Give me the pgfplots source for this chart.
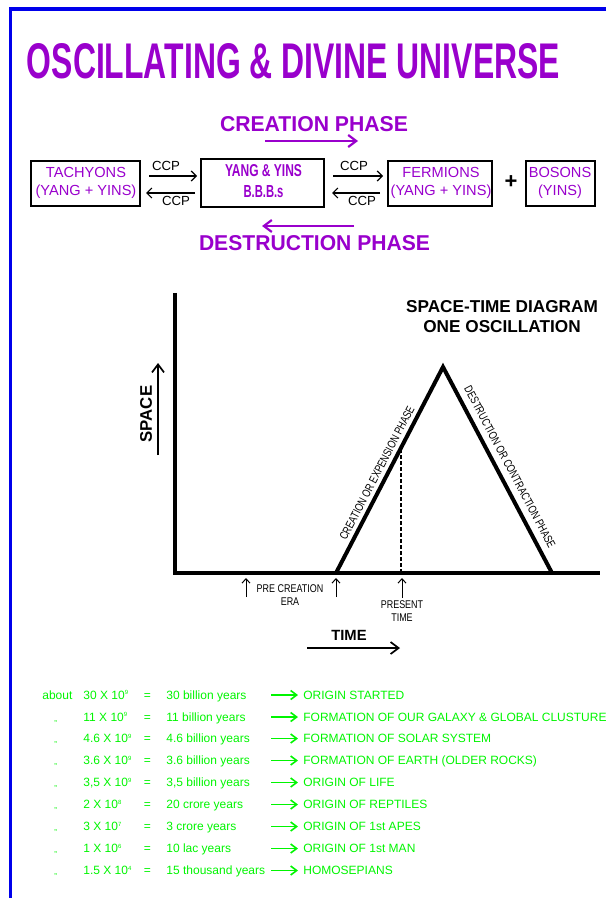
\documentclass[border=0pt]{standalone}
\usepackage{pgfplots}
\pgfplotsset{compat=1.18}
\usepackage{fontspec}
\setmainfont{Liberation Sans}
\usepackage{graphicx}
\usetikzlibrary{arrows.meta}
\definecolor{purp}{RGB}{153,0,204}
\definecolor{grn}{RGB}{0,245,0}
\definecolor{brd}{RGB}{0,0,235}
\newcommand{\fs}[1]{\fontsize{#1}{#1}\selectfont}
\newcommand{\ex}[1]{\raisebox{2.3pt}{\fs{3pt}#1}}
\newcommand{\grow}[5]{%
 \node[gtxt] at (axis cs:83,#1) {#2};
 \node[gtxt] at (axis cs:143.5,#1) {=};
 \node[gtxt] at (axis cs:166,#1) {#3};
 \draw[grn, line width=0.8pt, -{Straight Barb[length=3pt,width=4.5pt]}] (axis cs:271,#1) -- (axis cs:298,#1);
 \node[gtxt] at (axis cs:303,#1) {#4};
 \node[gtxt] at (axis cs:#5,#1) {\ifnum#5<50 about\else{\fs{4pt},,}\fi};
}
\begin{document}
\begin{tikzpicture}[gtxt/.style={anchor=base west, inner sep=0, text=grn, font=\fs{6pt}, yshift=-2.1pt}]
\begin{axis}[scale only axis, width=303pt, height=449pt,
  xmin=0, xmax=606, ymin=0, ymax=898, y dir=reverse, hide axis, clip=false]
% border
\draw[brd, line width=1.75pt] (axis cs:606,9) -- (axis cs:10.5,9) -- (axis cs:10.5,898);
% title
\node[inner sep=0, text=purp] at (axis cs:293.5,61.5) {\resizebox{266.5pt}{17.5pt}{\bfseries OSCILLATING \& DIVINE UNIVERSE}};
% phases
\node[inner sep=0, text=purp] at (axis cs:314,124.5) {\resizebox{94pt}{7.5pt}{\bfseries CREATION PHASE}};
\draw[purp, line width=1.1pt, -{Straight Barb[length=4pt,width=6pt]}] (axis cs:265,141) -- (axis cs:358,141);
\node[inner sep=0, text=purp] at (axis cs:314.5,243.5) {\resizebox{115.5pt}{7.5pt}{\bfseries DESTRUCTION PHASE}};
\draw[purp, line width=1.1pt, -{Straight Barb[length=4pt,width=6pt]}] (axis cs:354,226) -- (axis cs:262,226);
% boxes
\draw[line width=0.85pt] (axis cs:31,161) rectangle (axis cs:140,206);
\draw[line width=0.85pt] (axis cs:201,159) rectangle (axis cs:324,207);
\draw[line width=0.85pt] (axis cs:388,161) rectangle (axis cs:492,206);
\draw[line width=0.85pt] (axis cs:526,161) rectangle (axis cs:595,206);
\node[anchor=base, inner sep=0, text=purp, font=\fs{7.3pt}] at (axis cs:86,178) {TACHYONS};
\node[anchor=base, inner sep=0, text=purp, font=\fs{7.3pt}] at (axis cs:86,196) {(YANG + YINS)};
\node[anchor=base, inner sep=0, text=purp, font=\fs{7.3pt}] at (axis cs:441,178) {FERMIONS};
\node[anchor=base, inner sep=0, text=purp, font=\fs{7.3pt}] at (axis cs:441,196) {(YANG + YINS)};
\node[anchor=base, inner sep=0, text=purp, font=\fs{7.3pt}] at (axis cs:560,178) {BOSONS};
\node[anchor=base, inner sep=0, text=purp, font=\fs{7.3pt}] at (axis cs:560,196) {(YINS)};
\node[inner sep=0, text=purp] at (axis cs:263.5,171) {\resizebox{38.5pt}{6pt}{\bfseries YANG \& YINS}};
\node[inner sep=0, text=purp] at (axis cs:263.5,192) {\resizebox{20pt}{6pt}{\bfseries B.B.B.s}};
\node[anchor=base, inner sep=0, font=\fs{6.6pt}] at (axis cs:166,171) {CCP};
\node[anchor=base, inner sep=0, font=\fs{6.6pt}] at (axis cs:176,206) {CCP};
\node[anchor=base, inner sep=0, font=\fs{6.6pt}] at (axis cs:354,171) {CCP};
\node[anchor=base, inner sep=0, font=\fs{6.6pt}] at (axis cs:362,206) {CCP};
\draw[line width=0.6pt, -{Straight Barb[length=2.5pt,width=5pt]}] (axis cs:149,176) -- (axis cs:197,176);
\draw[line width=0.6pt, -{Straight Barb[length=2.5pt,width=5pt]}] (axis cs:195,193) -- (axis cs:146,193);
\draw[line width=0.6pt, -{Straight Barb[length=2.5pt,width=5pt]}] (axis cs:333,176) -- (axis cs:383,176);
\draw[line width=0.6pt, -{Straight Barb[length=2.5pt,width=5pt]}] (axis cs:380,193) -- (axis cs:332,193);
\node[inner sep=0, font=\fs{11pt}\bfseries] at (axis cs:511,182) {+};
% diagram
\addplot[black, line width=2pt, mark=none] coordinates {(175,293) (175,573) (600,573)};
\addplot[black, line width=2pt, mark=none, line join=miter] coordinates {(336,573) (443,367) (552,573)};
\addplot[black, line width=1.2pt, mark=none, dash pattern=on 2pt off 1pt] coordinates {(401,449) (401,572)};
\node[anchor=base, inner sep=0, font=\fs{8.6pt}\bfseries] at (axis cs:502,313) {SPACE-TIME DIAGRAM};
\node[anchor=base, inner sep=0, font=\fs{8.6pt}\bfseries] at (axis cs:502,332.5) {ONE OSCILLATION};
\node[rotate=90, inner sep=0, font=\fs{8.4pt}\bfseries] at (axis cs:146,414) {SPACE};
\draw[line width=0.85pt, -{Straight Barb[length=4pt,width=6pt]}] (axis cs:158,455) -- (axis cs:158,363);
\node[anchor=base, inner sep=0, font=\fs{7.4pt}\bfseries] at (axis cs:349,640) {TIME};
\draw[line width=0.85pt, -{Straight Barb[length=4pt,width=6pt]}] (axis cs:307,648) -- (axis cs:400,648);
\draw[line width=0.5pt, -{Straight Barb[length=2.2pt,width=4pt]}] (axis cs:246,597) -- (axis cs:246,578);
\draw[line width=0.5pt, -{Straight Barb[length=2.2pt,width=4pt]}] (axis cs:336,597) -- (axis cs:336,578);
\draw[line width=0.5pt, -{Straight Barb[length=2.2pt,width=4pt]}] (axis cs:402,598) -- (axis cs:402,578);
\node[anchor=base, inner sep=0] at (axis cs:290,592) {\scalebox{0.8}[1]{\fs{5.6pt}PRE CREATION}};
\node[anchor=base, inner sep=0] at (axis cs:290,605) {\scalebox{0.8}[1]{\fs{5.6pt}ERA}};
\node[anchor=base, inner sep=0] at (axis cs:402,608.3) {\scalebox{0.8}[1]{\fs{5.6pt}PRESENT}};
\node[anchor=base, inner sep=0] at (axis cs:402,621.7) {\scalebox{0.8}[1]{\fs{5.6pt}TIME}};
\node[rotate=62.5, inner sep=0] at (axis cs:377,473) {\scalebox{0.77}[1]{\fs{5.8pt}CREATION OR EXPENSION PHASE}};
\node[rotate=-62, inner sep=0] at (axis cs:510,467) {\scalebox{0.77}[1]{\fs{5.8pt}DESTRUCTION OR CONTRACTION PHASE}};
% green table
\grow{695}{30 X 10\ex{9}}{30 billion years}{ORIGIN STARTED}{42}
\grow{717}{11 X 10\ex{9}}{11 billion years}{FORMATION OF OUR GALAXY \& GLOBAL CLUSTURE}{54}
\grow{738.5}{4.6 X 10\ex{9}}{4.6 billion years}{FORMATION OF SOLAR SYSTEM}{54}
\grow{760.5}{3.6 X 10\ex{9}}{3.6 billion years}{FORMATION OF EARTH (OLDER ROCKS)}{54}
\grow{782.5}{3,5 X 10\ex{9}}{3,5 billion years}{ORIGIN OF LIFE}{54}
\grow{804.5}{2 X 10\ex{8}}{20 crore years}{ORIGIN OF REPTILES}{54}
\grow{826.5}{3 X 10\ex{7}}{3 crore years}{ORIGIN OF 1st APES}{54}
\grow{848.5}{1 X 10\ex{6}}{10 lac years}{ORIGIN OF 1st MAN}{54}
\grow{870.5}{1.5 X 10\ex{4}}{15 thousand years}{HOMOSEPIANS}{54}
\end{axis}
\pgfresetboundingbox
\path[use as bounding box] (0,0) rectangle (303pt,449pt);
\end{tikzpicture}
\end{document}
